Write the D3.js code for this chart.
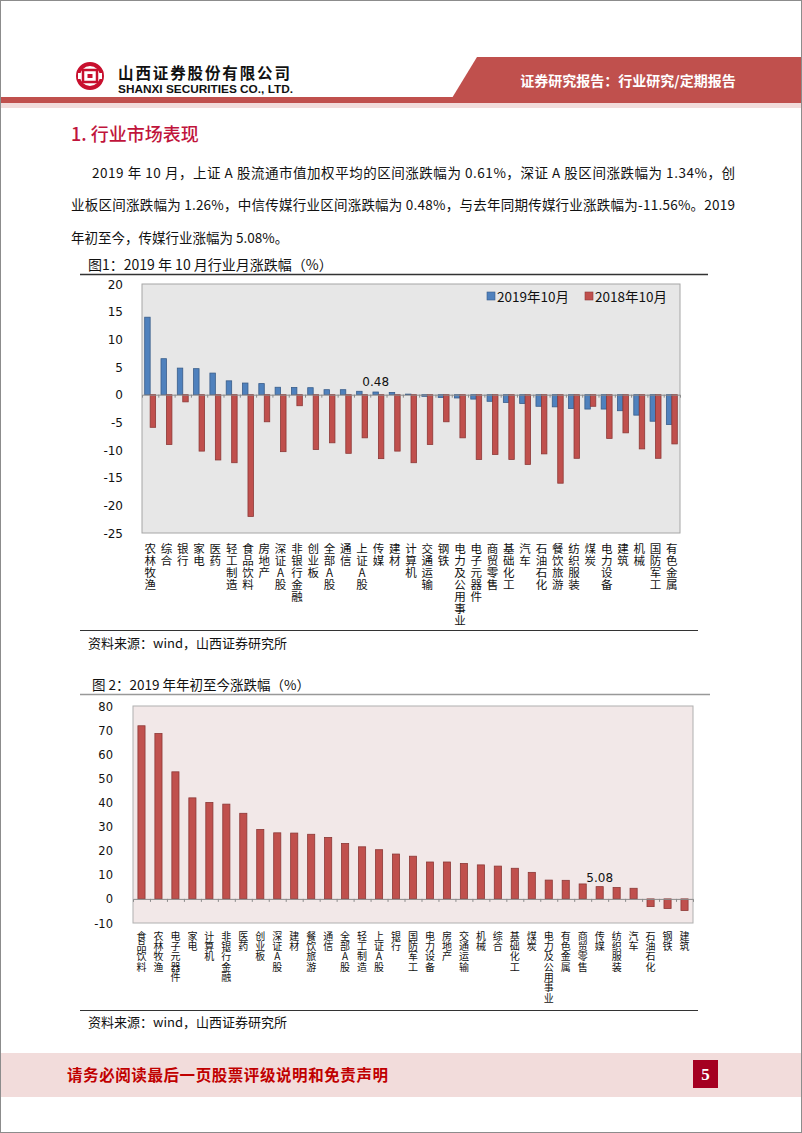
<!DOCTYPE html>
<html><head><meta charset="utf-8">
<script src="https://cdn.jsdelivr.net/npm/d3@7"></script>
<style>body{margin:0;background:#fff}svg{display:block}
.vlab{writing-mode:vertical-rl;text-orientation:upright;}</style>
</head><body>
<svg id="page" width="802" height="1133"></svg>
<script>
// ---------- data ----------
const cats1 = ["农林牧渔","综合","银行","家电","医药","轻工制造","食品饮料","房地产","深证A股","非银行金融","创业板","全部A股","通信","上证A股","传媒","建材","计算机","交通运输","钢铁","电力及公用事业","电子元器件","商贸零售","基础化工","汽车","石油石化","餐饮旅游","纺织服装","煤炭","电力设备","建筑","机械","国防军工","有色金属"];
const v2019 = [14.0,6.5,4.8,4.7,3.9,2.5,2.1,2.0,1.34,1.3,1.26,0.9,0.9,0.61,0.48,0.4,0.1,-0.3,-0.5,-0.6,-0.8,-1.2,-1.4,-1.6,-2.1,-2.2,-2.5,-2.6,-2.6,-2.9,-3.7,-4.8,-5.4];
const v2018 = [-5.9,-9.0,-1.3,-10.2,-11.8,-12.3,-22.0,-4.9,-10.3,-2.0,-9.9,-8.7,-10.6,-7.8,-11.56,-10.2,-12.3,-9.0,-4.9,-7.8,-11.7,-10.8,-11.7,-12.6,-10.7,-16.0,-11.5,-2.1,-7.9,-6.9,-9.8,-11.5,-8.9];
const series1 = ["2019年10月","2018年10月"];
const yTicks1 = [20,15,10,5,0,-5,-10,-15,-20,-25];
const label1 = {cat:"传媒", text:"0.48"};

const cats2 = ["食品饮料","农林牧渔","电子元器件","家电","计算机","非银行金融","医药","创业板","深证A股","建材","餐饮旅游","通信","全部A股","轻工制造","上证A股","银行","国防军工","电力设备","房地产","交通运输","机械","综合","基础化工","煤炭","电力及公用事业","有色金属","商贸零售","传媒","纺织服装","汽车","石油石化","钢铁","建筑"];
const ytd = [71.8,68.6,52.7,41.9,40.0,39.3,35.5,28.8,27.4,27.3,26.8,25.5,23.0,21.6,20.4,18.6,17.7,15.3,15.3,14.7,14.1,13.6,12.7,11.0,7.8,7.7,6.2,5.08,4.7,4.4,-3.2,-4.0,-4.8];
const yTicks2 = [80,70,60,50,40,30,20,10,0,-10];
const label2 = {cat:"传媒", text:"5.08"};

const headerCn = "山西证券股份有限公司";
const headerEn = "SHANXI SECURITIES CO., LTD.";
const bannerText = "证券研究报告：行业研究/定期报告";
const heading = "1. 行业市场表现";
const paraLines = [
  "2019 年 10 月，上证 A 股流通市值加权平均的区间涨跌幅为 0.61%，深证 A 股区间涨跌幅为 1.34%，创",
  "业板区间涨跌幅为 1.26%，中信传媒行业区间涨跌幅为 0.48%，与去年同期传媒行业涨跌幅为-11.56%。2019",
  "年初至今，传媒行业涨幅为 5.08%。"
];
const title1 = "图1：2019 年 10 月行业月涨跌幅（%）";
const title2 = "图 2：2019 年年初至今涨跌幅（%）";
const sourceText = "资料来源：wind，山西证券研究所";
const footerText = "请务必阅读最后一页股票评级说明和免责声明";
const pageNo = "5";

// ---------- drawing ----------
const CJK = "'Noto Sans CJK SC','Noto Sans',sans-serif";
const NUM = "'DejaVu Sans',sans-serif";
const svg = d3.select("#page");

// page border
svg.append("rect").attr("x",0.5).attr("y",0.5).attr("width",801).attr("height",1132)
  .attr("fill","none").attr("stroke","#8c8c8c");

// header
svg.append("polygon").attr("points","477,57 801,57 801,98 452,98").attr("fill","#C0504D");
svg.append("rect").attr("x",1).attr("y",97).attr("width",800).attr("height",6).attr("fill","#C0504D");
svg.append("rect").attr("x",1).attr("y",103).attr("width",800).attr("height",5).attr("fill","#F2DCDB");
svg.append("text").attr("x",628).attr("y",86).attr("text-anchor","middle")
  .attr("font-family",CJK).attr("font-size",14).attr("font-weight",700).attr("fill","#fff").text(bannerText);
// logo
const logo = svg.append("g").attr("transform","translate(90,76)");
logo.append("circle").attr("r",12).attr("fill","none").attr("stroke","#C8102E").attr("stroke-width",4);
logo.append("rect").attr("x",-12).attr("y",-3).attr("width",24).attr("height",6).attr("fill","#fff");
logo.append("rect").attr("x",-7).attr("y",-6).attr("width",14).attr("height",12).attr("fill","none").attr("stroke","#C8102E").attr("stroke-width",2.5);
logo.append("rect").attr("x",-2.5).attr("y",-2).attr("width",5).attr("height",4).attr("fill","#C8102E");
svg.append("text").attr("x",118).attr("y",79).attr("font-family",CJK).attr("font-size",15.5)
  .attr("font-weight",700).attr("fill","#111").attr("textLength",172).attr("lengthAdjust","spacing").text(headerCn);
svg.append("text").attr("x",118).attr("y",93).attr("font-family","'Liberation Sans',Arial,sans-serif")
  .attr("font-size",11).attr("font-weight",700).attr("fill","#111").attr("textLength",175).attr("lengthAdjust","spacingAndGlyphs").text(headerEn);

// heading + paragraph
svg.append("text").attr("x",71).attr("y",141).attr("font-family",CJK).attr("font-size",18)
  .attr("font-weight",500).attr("fill","#C0143C").text(heading);
const paraX = [92,71,71], paraW = [643,664,null], paraY=[178,210,243];
paraLines.forEach((t,i)=>{
  const el = svg.append("text").attr("x",paraX[i]).attr("y",paraY[i]).attr("font-family",CJK)
    .attr("font-size",13.5).attr("fill","#111").text(t);
  if (paraW[i]) el.attr("textLength",paraW[i]).attr("lengthAdjust","spacing");
});

// vertical category labels (one text per label, upright CJK column)
function vlabels(cats, xc, top, size, spacing){
  const g = svg.append("g").attr("font-family",CJK).attr("font-size",size).attr("fill","#111");
  cats.forEach(c=>{
    g.append("text").attr("class","vlab").attr("x",xc(c)).attr("y",top)
      .attr("letter-spacing",spacing).text(c);
  });
}

// ---------- chart 1 ----------
svg.append("text").attr("x",88).attr("y",270).attr("font-family",CJK).attr("font-size",14).attr("fill","#111").text(title1);
svg.append("line").attr("x1",80).attr("x2",708).attr("y1",274.5).attr("y2",274.5).attr("stroke","#333").attr("stroke-width",1.5);

const p1 = {l:142,r:680,t:284,b:533};
const y1 = d3.scaleLinear().domain([-25,20]).range([p1.b,p1.t]);
const x1 = d3.scaleBand().domain(cats1).range([p1.l,p1.r]).paddingInner(0.33).paddingOuter(0.165);
const xs1 = d3.scaleBand().domain(series1).range([0,x1.bandwidth()]);
const g1 = svg.append("g");
g1.append("rect").attr("x",p1.l).attr("y",p1.t).attr("width",p1.r-p1.l).attr("height",p1.b-p1.t)
  .attr("fill","#E7E7E7").attr("stroke","#A6A6A6");
const fills = {"2019年10月":"#4F81BD","2018年10月":"#C0504D"};
const strokes = {"2019年10月":"#385D8A","2018年10月":"#8C3836"};
const rows1 = cats1.map((c,i)=>({c, vals:[{s:series1[0],v:v2019[i]},{s:series1[1],v:v2018[i]}]}));
g1.selectAll("g.cat").data(rows1).join("g").attr("class","cat")
  .attr("transform",d=>`translate(${x1(d.c)},0)`)
  .selectAll("rect").data(d=>d.vals).join("rect")
  .attr("x",d=>xs1(d.s)).attr("width",xs1.bandwidth())
  .attr("y",d=>y1(Math.max(0,d.v))).attr("height",d=>Math.abs(y1(d.v)-y1(0)))
  .attr("fill",d=>fills[d.s]).attr("stroke",d=>strokes[d.s]).attr("stroke-width",0.8);
const xi1 = d3.scaleLinear().domain([0,cats1.length]).range([p1.l,p1.r]);
g1.append("g").attr("transform",`translate(0,${y1(0)})`)
  .call(d3.axisBottom(xi1).tickValues(d3.range(1,cats1.length)).tickSize(3).tickFormat(""))
  .call(g=>{g.selectAll("path,line").attr("stroke","#8a8a8a");});
g1.append("g").attr("transform",`translate(${p1.l-16},0)`)
  .call(d3.axisLeft(y1).tickValues(yTicks1).tickSize(0).tickFormat(d=>String(d)))
  .call(g=>{g.select(".domain").remove();g.selectAll("text").attr("font-family",NUM).attr("font-size",12).attr("fill","#111").attr("dy","0.35em");});
g1.append("text").attr("x",x1(label1.cat)+xs1(series1[0])+xs1.bandwidth()/2)
  .attr("y",y1(v2019[cats1.indexOf(label1.cat)])-6).attr("text-anchor","middle")
  .attr("font-family",NUM).attr("font-size",12).attr("fill","#111").text(label1.text);
const legX = [487,585];
series1.forEach((s,i)=>{
  g1.append("rect").attr("x",legX[i]).attr("y",292).attr("width",8).attr("height",8).attr("fill",fills[s]).attr("stroke",strokes[s]).attr("stroke-width",0.6);
  g1.append("text").attr("x",legX[i]+10).attr("y",301.5).attr("font-family",CJK).attr("font-size",13.5).attr("fill","#111").text(s);
});
vlabels(cats1, c=>x1(c)+x1.bandwidth()/2, 543, 11.5, 0.5);
svg.append("line").attr("x1",80).attr("x2",698).attr("y1",630.5).attr("y2",630.5).attr("stroke","#333").attr("stroke-width",1.2);
svg.append("text").attr("x",88).attr("y",648).attr("font-family",CJK).attr("font-size",13).attr("fill","#111").text(sourceText);

// ---------- chart 2 ----------
svg.append("text").attr("x",92).attr("y",690).attr("font-family",CJK).attr("font-size",13.5).attr("fill","#111").text(title2);
svg.append("line").attr("x1",80).attr("x2",710).attr("y1",694.5).attr("y2",694.5).attr("stroke","#999").attr("stroke-width",1.5);

const p2 = {l:133,r:693,t:706,b:923};
const y2 = d3.scaleLinear().domain([-10,80]).range([p2.b,p2.t]);
const x2 = d3.scaleBand().domain(cats2).range([p2.l,p2.r]).paddingInner(0.58).paddingOuter(0.29);
const g2 = svg.append("g");
g2.append("rect").attr("x",p2.l).attr("y",p2.t).attr("width",p2.r-p2.l).attr("height",p2.b-p2.t)
  .attr("fill","#F2E8E8").attr("stroke","#B0B0B0");
g2.selectAll("rect.bar").data(cats2.map((c,i)=>({c,v:ytd[i]}))).join("rect").attr("class","bar")
  .attr("x",d=>x2(d.c)).attr("width",x2.bandwidth())
  .attr("y",d=>y2(Math.max(0,d.v))).attr("height",d=>Math.abs(y2(d.v)-y2(0)))
  .attr("fill","#C0504D").attr("stroke","#8C3836").attr("stroke-width",0.8);
const xi2 = d3.scaleLinear().domain([0,cats2.length]).range([p2.l,p2.r]);
g2.append("g").attr("transform",`translate(0,${y2(0)})`)
  .call(d3.axisBottom(xi2).tickValues(d3.range(1,cats2.length)).tickSize(3).tickFormat(""))
  .call(g=>{g.selectAll("path,line").attr("stroke","#8a8a8a");});
g2.append("g").attr("transform",`translate(${p2.l-17},0)`)
  .call(d3.axisLeft(y2).tickValues(yTicks2).tickSize(0).tickFormat(d=>String(d)))
  .call(g=>{g.select(".domain").remove();g.selectAll("text").attr("font-family",NUM).attr("font-size",11.5).attr("fill","#111").attr("dy","0.35em");});
g2.append("text").attr("x",x2(label2.cat)+x2.bandwidth()/2)
  .attr("y",y2(ytd[cats2.indexOf(label2.cat)])-5).attr("text-anchor","middle")
  .attr("font-family",NUM).attr("font-size",12).attr("fill","#111").text(label2.text);
vlabels(cats2, c=>x2(c)+x2.bandwidth()/2, 931, 10, 0.3);
svg.append("line").attr("x1",80).attr("x2",698).attr("y1",1010.5).attr("y2",1010.5).attr("stroke","#333").attr("stroke-width",1.2);
svg.append("text").attr("x",88).attr("y",1027).attr("font-family",CJK).attr("font-size",13).attr("fill","#111").text(sourceText);

// ---------- footer ----------
svg.append("rect").attr("x",1).attr("y",1053).attr("width",800).attr("height",44).attr("fill","#F2DCDB");
svg.append("text").attr("x",67).attr("y",1081).attr("font-family",CJK).attr("font-size",15.5).attr("font-weight",700)
  .attr("fill","#C00000").attr("textLength",321).attr("lengthAdjust","spacing").text(footerText);
svg.append("rect").attr("x",693).attr("y",1060).attr("width",25).attr("height",28).attr("fill","#A50021");
svg.append("text").attr("x",705.5).attr("y",1080).attr("text-anchor","middle").attr("font-family","'Liberation Serif',serif")
  .attr("font-size",17).attr("font-weight",700).attr("fill","#fff").text(pageNo);
</script>
</body></html>
